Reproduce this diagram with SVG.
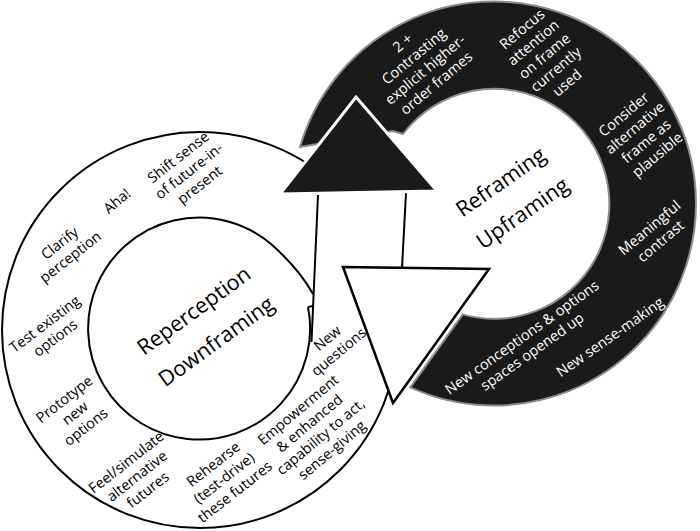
<svg xmlns="http://www.w3.org/2000/svg" width="700" height="531" viewBox="0 0 700 531">
<style>
.t{font-family:"Open Sans","Noto Sans","Liberation Sans",sans-serif;font-size:14.5px;text-anchor:middle;fill:#000}
.w{fill:#fff}
.big{font-size:21.5px}
.ln{fill:none;stroke:#000;stroke-width:2}
</style>
<rect width="700" height="531" fill="#fff"/>
<g id="reperception-ring">
  <circle cx="200" cy="330" r="198" fill="#fff" stroke="#000" stroke-width="2"/>
  <path class="ln" d="M308,307 A111,111 0 1 1 271,244 C288,259 303,276 313,294"/>
  <path class="ln" d="M308,307 L313,306"/>
</g>
<g id="reframing-ring">
  <path d="M300,147 A202,202 0 1 1 410.3,387.4 L462.7,314.4 A115,115 0 1 0 403,134 L393,131 Z" fill="#1a1a1a" stroke="#8c8c8c" stroke-width="2"/>
</g>
<g id="connectors">
  <polygon points="318,194 406,192 402,268 313,294" fill="#fff"/>
  <line class="ln" x1="318" y1="195" x2="311.5" y2="342"/>
  <line class="ln" x1="406" y1="193" x2="402" y2="268"/>
  <polygon points="356,97 437,191 280,194" fill="#1a1a1a" stroke="#fff" stroke-width="3" stroke-linejoin="miter"/>
  <polygon points="343,267 489,269 393,403" fill="#fff" stroke="#000" stroke-width="2.5" stroke-linejoin="miter"/>
</g>
<g id="reperception-labels">
  <text class="t" transform="translate(65,250) rotate(-38)"><tspan x="0" y="-3.75">Clarify</tspan><tspan x="0" y="13.75">perception</tspan></text>
  <text class="t" transform="translate(117,201) rotate(-40)"><tspan x="0" y="5">Aha!</tspan></text>
  <text class="t" transform="translate(189,171) rotate(-38)"><tspan x="0" y="-12.5">Shift sense</tspan><tspan x="0" y="5">of future-in-</tspan><tspan x="0" y="22.5">present</tspan></text>
  <text class="t" transform="translate(50,331) rotate(-37)"><tspan x="0" y="-3.75">Test existing</tspan><tspan x="0" y="13.75">options</tspan></text>
  <text class="t" transform="translate(75,413) rotate(-38)"><tspan x="0" y="-12.5">Prototype</tspan><tspan x="0" y="5">new</tspan><tspan x="0" y="22.5">options</tspan></text>
  <text class="t" transform="translate(137,476) rotate(-38)"><tspan x="0" y="-12.5">Feel/simulate</tspan><tspan x="0" y="5">alternative</tspan><tspan x="0" y="22.5">futures</tspan></text>
  <text class="t" transform="translate(224,478) rotate(-38)"><tspan x="0" y="-12.5">Rehearse</tspan><tspan x="0" y="5">(test-drive)</tspan><tspan x="0" y="22.5">these futures</tspan></text>
  <text class="t" transform="translate(315,430) rotate(-40)"><tspan x="0" y="-21.25">Empowerment</tspan><tspan x="0" y="-3.75">&amp; enhanced</tspan><tspan x="0" y="13.75">capability to act,</tspan><tspan x="0" y="31.25">sense-giving</tspan></text>
  <text class="t" transform="translate(333,345) rotate(-40)"><tspan x="0" y="-3.75">New</tspan><tspan x="0" y="13.75">questions</tspan></text>
  <text class="t big" transform="translate(205,326) rotate(-36)"><tspan x="0" y="-11.5">Reperception</tspan><tspan x="0" y="26.5">Downframing</tspan></text>
</g>
<g id="reframing-labels">
  <text class="t w" transform="translate(419.5,63) rotate(-40)"><tspan x="0" y="-21.25">2 +</tspan><tspan x="0" y="-3.75">Contrasting</tspan><tspan x="0" y="13.75">explicit higher-</tspan><tspan x="0" y="31.25">order frames</tspan></text>
  <text class="t w" transform="translate(544.5,56) rotate(-40)"><tspan x="0" y="-30">Refocus</tspan><tspan x="0" y="-12.5">attention</tspan><tspan x="0" y="5">on frame</tspan><tspan x="0" y="22.5">currently</tspan><tspan x="0" y="40">used</tspan></text>
  <text class="t w" transform="translate(640.5,134.5) rotate(-40)"><tspan x="0" y="-21.25">Consider</tspan><tspan x="0" y="-3.75">alternative</tspan><tspan x="0" y="13.75">frame as</tspan><tspan x="0" y="31.25">plausible</tspan></text>
  <text class="t w" transform="translate(655,234.5) rotate(-40)"><tspan x="0" y="-3.75">Meaningful</tspan><tspan x="0" y="13.75">contrast</tspan></text>
  <text class="t w" transform="translate(610,337) rotate(-35)"><tspan x="0" y="5">New sense-making</tspan></text>
  <text class="t w" transform="translate(527,344.5) rotate(-35.5)"><tspan x="0" y="-3.75">New conceptions &amp; options</tspan><tspan x="0" y="13.75">spaces opened up</tspan></text>
  <text class="t big" transform="translate(511.5,197.5) rotate(-35)"><tspan x="0" y="-11.5">Reframing</tspan><tspan x="0" y="26.5">Upframing</tspan></text>
</g>
</svg>
